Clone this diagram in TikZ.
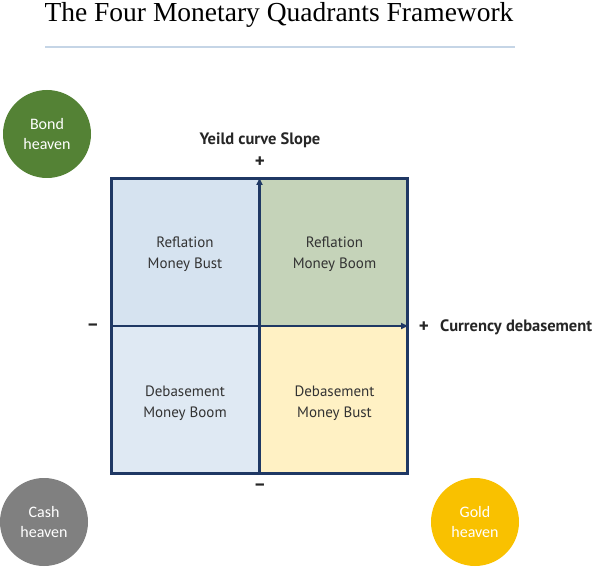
\documentclass[tikz,border=0pt]{standalone}
\usepackage{fontspec}
\usepackage{xcolor}
\usepackage{tikz}
\usetikzlibrary{arrows.meta,positioning}
\setmainfont{PT Sans}
\newfontfamily\titlefont{Liberation Serif}
\newfontfamily\circfont{Carlito}
\definecolor{navy}{HTML}{1F3864}
\definecolor{rulecol}{HTML}{C5D5E6}
\definecolor{bondcol}{HTML}{548235}
\definecolor{cashcol}{HTML}{808080}
\definecolor{goldcol}{HTML}{F9C100}

\begin{document}
\begin{tikzpicture}[x=1pt,y=-1pt,
    heaven/.style={circle,minimum size=88pt,inner sep=0pt,text=white,
        align=center,font=\circfont\fontsize{16}{20}\selectfont},
    quad/.style={minimum width=149pt,minimum height=149pt,inner sep=0pt},
    qtext/.style={align=center,text=black!80,yshift=-2.5pt,font=\fontsize{15}{21}\selectfont},
    axis/.style={navy,line width=2.2pt,-{Latex[length=8pt,width=7pt]}},
    lbl/.style={inner sep=0pt,font=\bfseries\fontsize{16.5}{18}\selectfont,text=black!85},
    sign/.style={lbl,font=\bfseries\fontsize{19}{20}\selectfont}]
    \useasboundingbox (0,0) rectangle (606,567);
    % Title and rule
    \node (title) at (279,15) {\titlefont\fontsize{27.5}{30}\selectfont The Four Monetary Quadrants Framework};
    \draw[rulecol,line width=2pt] (45,47) coordinate (r_1) -- (515,47) coordinate (r_2);
    % Quadrant fills
    \node[quad,fill={rgb,255:red,214;green,227;blue,240},label={[qtext]center:Reflation\\Money Bust}] (nw) at (185,251.5) {};
    \node[quad,fill={rgb,255:red,197;green,211;blue,185},label={[qtext]center:Reflation\\Money Boom}] (ne) at (334.5,251.5) {};
    \node[quad,fill={rgb,255:red,223;green,233;blue,243},label={[qtext]center:Debasement\\Money Boom}] (sw) at (185,400.5) {};
    \node[quad,fill={rgb,255:red,255;green,241;blue,196},label={[qtext]center:Debasement\\Money Bust}] (se) at (334.5,400.5) {};
    % Frame and axes
    \node[draw=navy,line width=3pt,minimum width=296pt,minimum height=295pt,inner sep=0pt] (frame) at (259.5,326) {};
    \draw[axis] (frame.south) -- (frame.north);
    \draw[axis] (frame.west) -- (frame.east);
    % Axis labels
    \node[lbl] (ytitle) at (260,140) {Yeild curve Slope};
    \node[sign] (yplus) at (260,162) {+};
    \node[sign] (yminus) at (260,487) {--};
    \node[sign] (xminus) at (93,327) {--};
    \node[sign] (xplus) at (424,327) {+};
    \node[lbl,anchor=west] (xtitle) at (440,327) {Currency debasement};
    % Heaven circles
    \node[heaven,fill=bondcol] (bond) at (47,134) {Bond\\heaven};
    \node[heaven,fill=cashcol] (cash) at (44,522) {Cash\\heaven};
    \node[heaven,fill=goldcol] (gold) at (475,522) {Gold\\heaven};
\end{tikzpicture}
\end{document}
